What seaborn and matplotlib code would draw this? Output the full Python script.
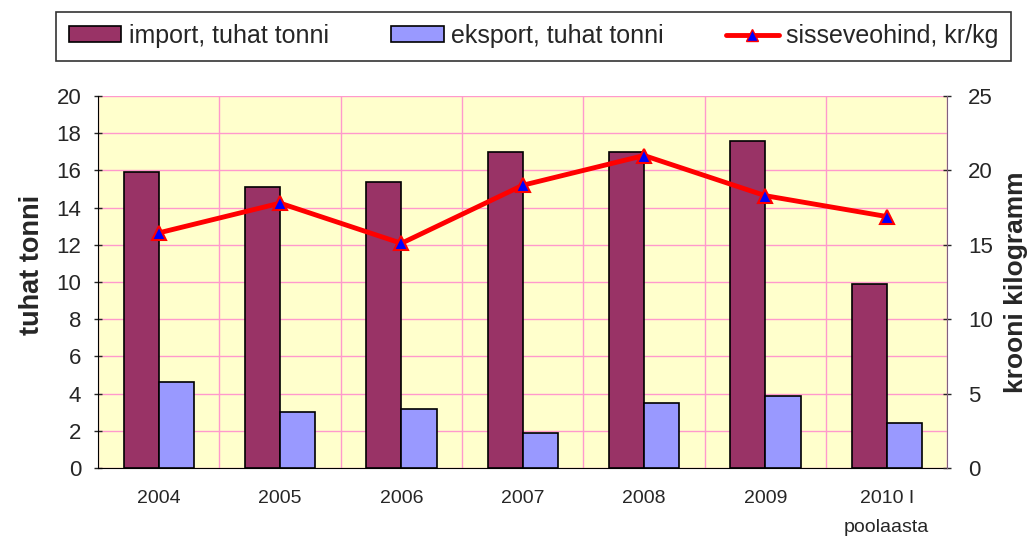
import numpy as np
import pandas as pd
import matplotlib.pyplot as plt
import seaborn as sns

years = ["2004", "2005", "2006", "2007", "2008", "2009", "2010 I\npoolaasta"]
import_kt = [15.9, 15.1, 15.4, 17.0, 17.0, 17.6, 9.9]
export_kt = [4.6, 3.0, 3.2, 1.9, 3.5, 3.9, 2.4]
price_kr = [15.8, 17.8, 15.1, 19.0, 21.0, 18.3, 16.9]

series_names = ["import, tuhat tonni", "eksport, tuhat tonni", "sisseveohind, kr/kg"]

sns.set_style("white")
plt.rcParams['font.family'] = ['Liberation Sans', 'DejaVu Sans']

df = pd.DataFrame({
    "aasta": years * 2,
    "tonni": import_kt + export_kt,
    "seeria": [series_names[0]] * len(years) + [series_names[1]] * len(years),
})

fig = plt.figure(figsize=(10.32, 5.38), dpi=100)
ax = fig.add_axes([0.095, 0.130, 0.823, 0.6916])
ax.set_facecolor("#FFFFCC")

sns.barplot(data=df, x="aasta", y="tonni", hue="seeria",
            palette=["#993366", "#9999FF"], width=0.58, gap=0,
            edgecolor="black", linewidth=1.2, saturation=1,
            legend=False, ax=ax, zorder=3)

n = len(years)
ax.set_xlim(-0.5, n - 0.5)
ax.set_ylim(0, 20)
ax.set_yticks(np.arange(0, 21, 2))
ax.set_xticks(np.arange(n + 1) - 0.5)
ax.set_xticklabels([])
ax.set_xticks(np.arange(n), minor=True)
ax.set_xticklabels(years, minor=True, fontsize=14, linespacing=1.9)
ax.tick_params(axis="x", which="minor", length=0, pad=16)
ax.tick_params(axis="x", which="major", length=6, width=1, direction="inout")
ax.tick_params(axis="y", labelsize=16, length=6, width=1, direction="inout", left=True, pad=9)
ax.grid(True, which="major", color="#FF99CC", linewidth=1, zorder=0)
ax.set_axisbelow(True)
ax.set_xlabel("")
ax.set_ylabel("tuhat tonni", fontsize=19.5, fontweight="bold")
ax.yaxis.set_label_coords(-0.062, 0.546)
for s in ["top", "right"]:
    ax.spines[s].set_visible(False)
ax.spines["left"].set_color("black")
ax.spines["bottom"].set_color("black")

ax2 = ax.twinx()
sns.lineplot(x=np.arange(n), y=price_kr, ax=ax2, color="red", linewidth=3.5,
             marker="^", markersize=10, markerfacecolor="blue",
             markeredgecolor="red", markeredgewidth=1.5, zorder=5)
ax2.set_ylim(0, 25)
ax2.set_yticks(np.arange(0, 26, 5))
ax2.tick_params(axis="y", labelsize=16, length=6, width=1, direction="inout", right=True, pad=12)
ax2.set_ylabel("krooni kilogramm", fontsize=19, fontweight="bold", labelpad=8)
for s in ["top", "left", "bottom"]:
    ax2.spines[s].set_visible(False)
ax2.spines["right"].set_color("#806080")

handles = [
    plt.Rectangle((0, 0), 1, 1, facecolor="#993366", edgecolor="black", linewidth=1.2),
    plt.Rectangle((0, 0), 1, 1, facecolor="#9999FF", edgecolor="black", linewidth=1.2),
    plt.Line2D([], [], color="red", linewidth=3.5, marker="^", markersize=9,
               markerfacecolor="blue", markeredgecolor="red"),
]
leg = fig.legend(handles, series_names, loc="center", bbox_to_anchor=(0.517, 0.933),
                 ncol=3, fontsize=18, frameon=True, fancybox=False,
                 edgecolor="black", handlelength=2.1, handleheight=0.6,
                 handletextpad=0.3, columnspacing=2.5, borderpad=0.5)
leg.get_frame().set_linewidth(1.2)

fig.savefig("out.png", dpi=100)
